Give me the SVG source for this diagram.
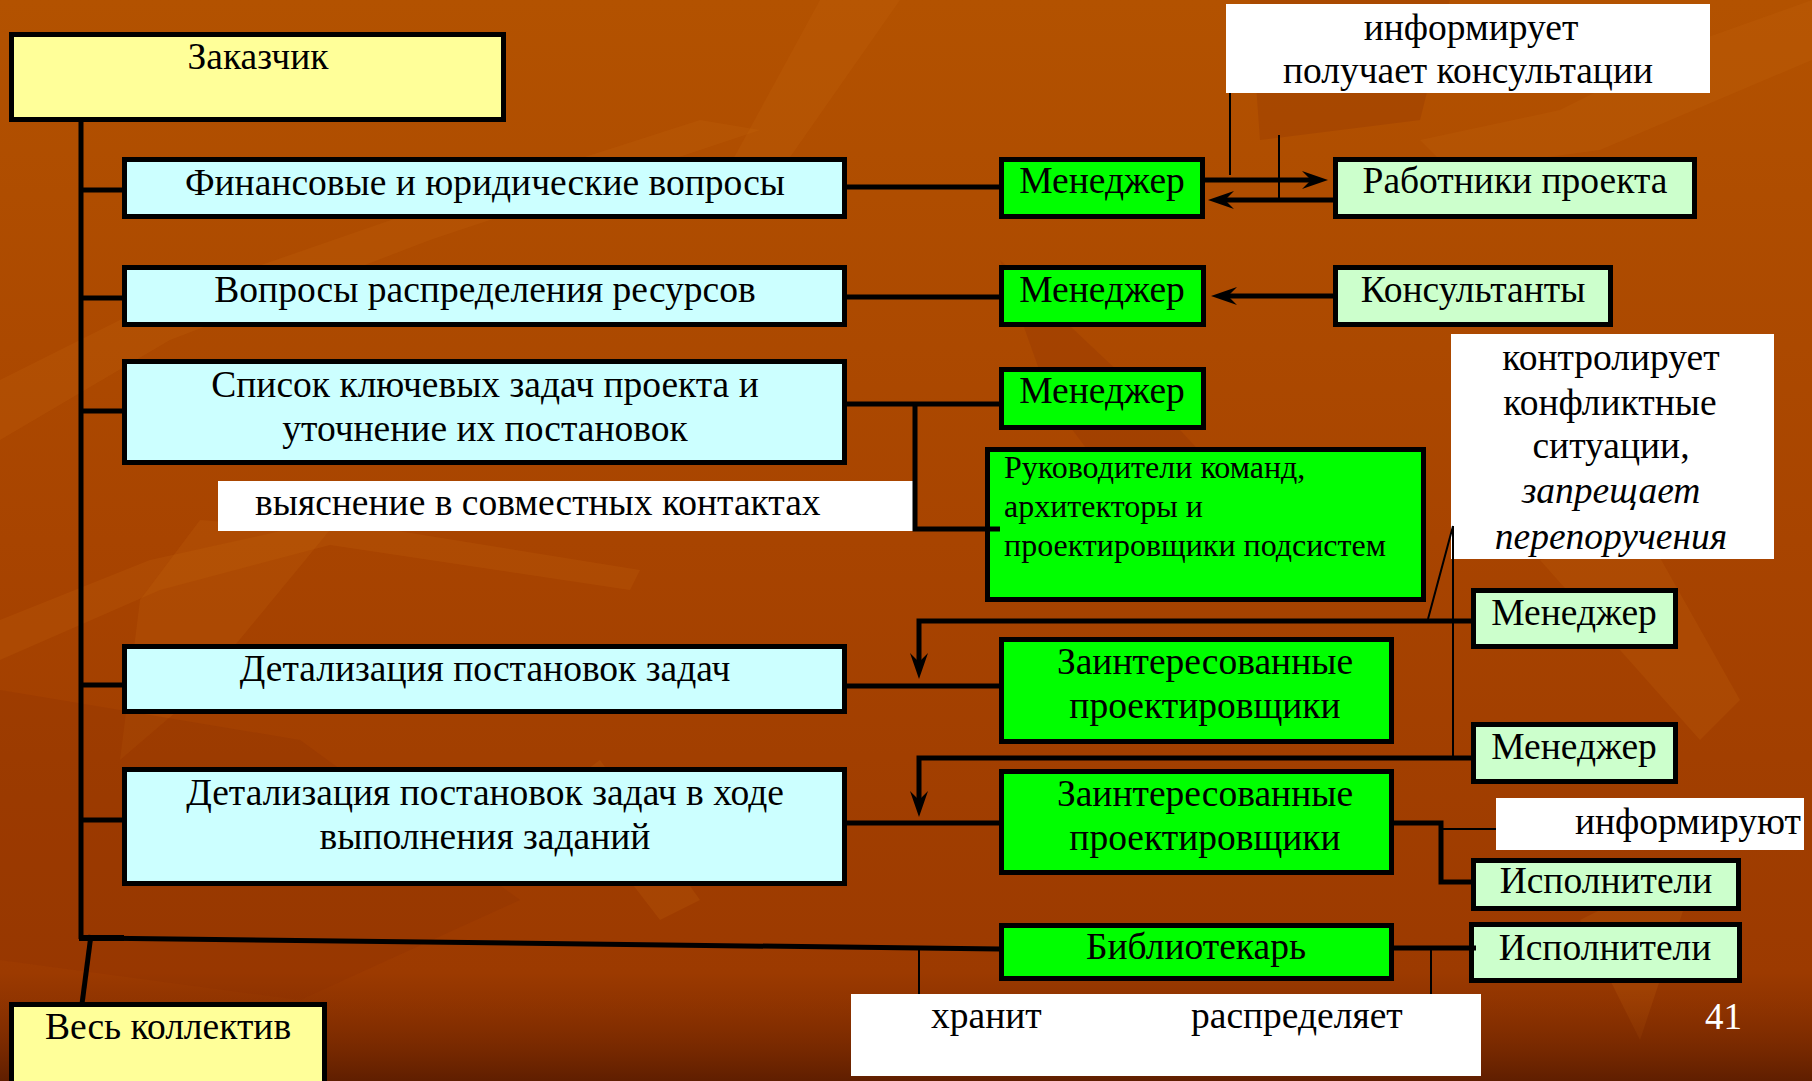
<svg xmlns="http://www.w3.org/2000/svg" width="1812" height="1081" viewBox="0 0 1812 1081">
<defs>
<linearGradient id="bg" x1="0" y1="0" x2="0" y2="1">
<stop offset="0" stop-color="#B35200"/>
<stop offset="0.5" stop-color="#A84400"/>
<stop offset="0.9" stop-color="#9C3A00"/>
<stop offset="1" stop-color="#6E2300"/>
</linearGradient>
<linearGradient id="bot" x1="0" y1="0" x2="0" y2="1">
<stop offset="0" stop-color="#9C3A00" stop-opacity="0"/>
<stop offset="1" stop-color="#5E1E00" stop-opacity="0.9"/>
</linearGradient>
<marker id="ah" viewBox="0 0 26 20" refX="9" refY="10" markerWidth="26" markerHeight="20" markerUnits="userSpaceOnUse" orient="auto">
<path d="M26,10 L0,1 L9,10 L0,19 Z" fill="#000"/>
</marker>
<style>
.t{font-family:"Liberation Serif","Times New Roman",serif;font-size:37.5px;fill:#000}
.tc{text-anchor:middle}
.s{font-size:32px}
.i{font-style:italic}
.box{stroke:#000;stroke-width:5}
.y{fill:#FFFF99}
.c{fill:#CCFFFF}
.g{fill:#00FF00}
.lg{fill:#CCFFCC}
.lbl{fill:#FFFFFF}
.k{fill:none;stroke:#000;stroke-width:5}
.thin{fill:none;stroke:#000;stroke-width:2}
.ar{marker-end:url(#ah)}
.tex{fill:#C86A10;opacity:0.2}
.dk{fill:#8A3000;opacity:0.25}
</style>
</defs>
<g id="background">
<rect width="1812" height="1081" fill="url(#bg)"/>
<polygon class="tex" points="0,380 160,300 420,210 700,120 760,130 430,240 170,340 0,440"/>
<polygon class="tex" points="0,620 150,560 330,520 640,570 630,590 330,545 160,590 0,660"/>
<polygon class="tex" points="140,600 200,520 330,530 190,700 120,760"/>
<polygon class="tex" points="820,0 900,0 760,200 700,220"/>
<polygon class="tex" points="1420,140 1560,110 1700,40 1812,0 1812,60 1600,150 1450,170"/>
<polygon class="tex" points="1540,560 1650,540 1740,700 1700,740"/>
<polygon class="tex" points="600,760 700,900 660,920 560,790"/>
<polygon class="tex" points="1580,920 1700,860 1640,1040"/>
<polygon class="dk" points="0,690 300,740 520,900 300,1000 0,960"/>
<polygon class="dk" points="1000,260 1180,430 1300,560 1200,600 1050,400"/>
<polygon class="dk" points="1250,0 1450,0 1420,120 1260,140"/>
<rect y="990" width="1812" height="91" fill="url(#bot)"/>
</g>
<g id="labels">
<g id="lbl-inform-top"><rect class="lbl" x="1226" y="4" width="484" height="89"/>
<text class="t tc" x="1471" y="40">информирует</text>
<text class="t tc" x="1468" y="83">получает консультации</text></g>
<g id="lbl-clarify"><rect class="lbl" x="218" y="481" width="695" height="50"/>
<text class="t" x="255" y="515">выяснение в совместных контактах</text></g>
<g id="lbl-control"><rect class="lbl" x="1451" y="334" width="323" height="225"/>
<text class="t tc" x="1611" y="370">контролирует</text>
<text class="t tc" x="1610" y="415">конфликтные</text>
<text class="t tc" x="1611" y="458">ситуации,</text>
<text class="t tc i" x="1611" y="503">запрещает</text>
<text class="t tc i" x="1611" y="549">перепоручения</text></g>
<g id="lbl-inform-bottom"><rect class="lbl" x="1496" y="798" width="308" height="52"/>
<text class="t" x="1801" y="834" text-anchor="end">информируют</text></g>
<g id="lbl-store"><rect class="lbl" x="851" y="994" width="630" height="82"/>
<text class="t" x="931" y="1028">хранит</text>
<text class="t" x="1191" y="1028">распределяет</text></g>
</g>
<g id="nodes">
<g id="customer"><rect class="box y" x="11.5" y="34.5" width="492" height="85"/><text class="t tc" x="258" y="69">Заказчик</text></g>
<g id="team"><rect class="box y" x="11.5" y="1004.5" width="313" height="90"/><text class="t tc" x="168" y="1039">Весь коллектив</text></g>
<g id="fin"><rect class="box c" x="124.5" y="159.5" width="720" height="57"/><text class="t tc" x="485" y="195">Финансовые и юридические вопросы</text></g>
<g id="res"><rect class="box c" x="124.5" y="267.5" width="720" height="57"/><text class="t tc" x="485" y="302">Вопросы распределения ресурсов</text></g>
<g id="tasks"><rect class="box c" x="124.5" y="361.5" width="720" height="101"/><text class="t tc" x="485" y="397">Список ключевых задач проекта и</text><text class="t tc" x="485" y="441">уточнение их постановок</text></g>
<g id="detail"><rect class="box c" x="124.5" y="646.5" width="720" height="65"/><text class="t tc" x="485" y="681">Детализация постановок задач</text></g>
<g id="detail2"><rect class="box c" x="124.5" y="769.5" width="720" height="114"/><text class="t tc" x="485" y="805">Детализация постановок задач в ходе</text><text class="t tc" x="485" y="849">выполнения заданий</text></g>
<g id="mgr1"><rect class="box g" x="1001.5" y="159.5" width="201" height="57"/><text class="t tc" x="1102" y="193">Менеджер</text></g>
<g id="mgr2"><rect class="box g" x="1001.5" y="267.5" width="202" height="57"/><text class="t tc" x="1102" y="302">Менеджер</text></g>
<g id="mgr3"><rect class="box g" x="1001.5" y="369.5" width="202" height="58"/><text class="t tc" x="1102" y="403">Менеджер</text></g>
<g id="leads"><rect class="box g" x="987.5" y="449.5" width="436" height="150"/><text class="t s" x="1004" y="478">Руководители команд,</text><text class="t s" x="1004" y="517">архитекторы и</text><text class="t s" x="1004" y="556">проектировщики подсистем</text></g>
<g id="int1"><rect class="box g" x="1001.5" y="639.5" width="390" height="102"/><text class="t tc" x="1205" y="674">Заинтересованные</text><text class="t tc" x="1205" y="718">проектировщики</text></g>
<g id="int2"><rect class="box g" x="1001.5" y="771.5" width="390" height="101"/><text class="t tc" x="1205" y="806">Заинтересованные</text><text class="t tc" x="1205" y="850">проектировщики</text></g>
<g id="lib"><rect class="box g" x="1001.5" y="925.5" width="390" height="53"/><text class="t tc" x="1196" y="959">Библиотекарь</text></g>
<g id="workers"><rect class="box lg" x="1335.5" y="159.5" width="359" height="57"/><text class="t tc" x="1515" y="193">Работники проекта</text></g>
<g id="consult"><rect class="box lg" x="1335.5" y="267.5" width="275" height="57"/><text class="t tc" x="1473" y="302">Консультанты</text></g>
<g id="mgr4"><rect class="box lg" x="1473.5" y="590.5" width="202" height="56"/><text class="t tc" x="1574" y="625">Менеджер</text></g>
<g id="mgr5"><rect class="box lg" x="1473.5" y="724.5" width="202" height="57"/><text class="t tc" x="1574" y="759">Менеджер</text></g>
<g id="exec1"><rect class="box lg" x="1473.5" y="860.5" width="265" height="48"/><text class="t tc" x="1606" y="893">Исполнители</text></g>
<g id="exec2"><rect class="box lg" x="1471.5" y="924.5" width="268" height="56"/><text class="t tc" x="1605" y="960">Исполнители</text></g>
</g>
<g id="connectors">
<path class="k" d="M81,122 V939"/>
<path class="k" d="M81,190 H124 M81,298 H124 M81,411 H124 M81,685 H124 M81,820 H124"/>
<path class="k" style="stroke-width:6" d="M79,938 H124"/>
<path class="k" d="M90,938 L1000,949"/>
<path class="k" d="M91,935 L82,1004"/>
<path class="k" d="M845,187 H1000 M845,297 H1000 M845,404 H1000"/>
<path class="k" d="M915,404 V529 H1000"/>
<path class="k ar" d="M1204,180 H1311"/>
<path class="k ar" d="M1333,200 H1225"/>
<path class="k ar" d="M1333,296 H1228"/>
<path class="k ar" d="M1471,621 H919 V662"/>
<path class="k ar" d="M1471,758 H919 V800"/>
<path class="k" d="M845,686 H1000 M845,823 H1000"/>
<path class="k" d="M1394,823 H1441 V882 H1471"/>
<path class="k" d="M1394,948 H1476"/>
<path class="thin" d="M1230,93 V175 M1279,135 V198 M1453,526 V758 M1453,526 L1428,619 M1441,829 H1496 M919,948 V994 M1431,948 V994"/>
</g>
<text x="1705" y="1029" style="font-family:'Liberation Serif',serif;font-size:37px;fill:#FFFFFF">41</text>
</svg>
